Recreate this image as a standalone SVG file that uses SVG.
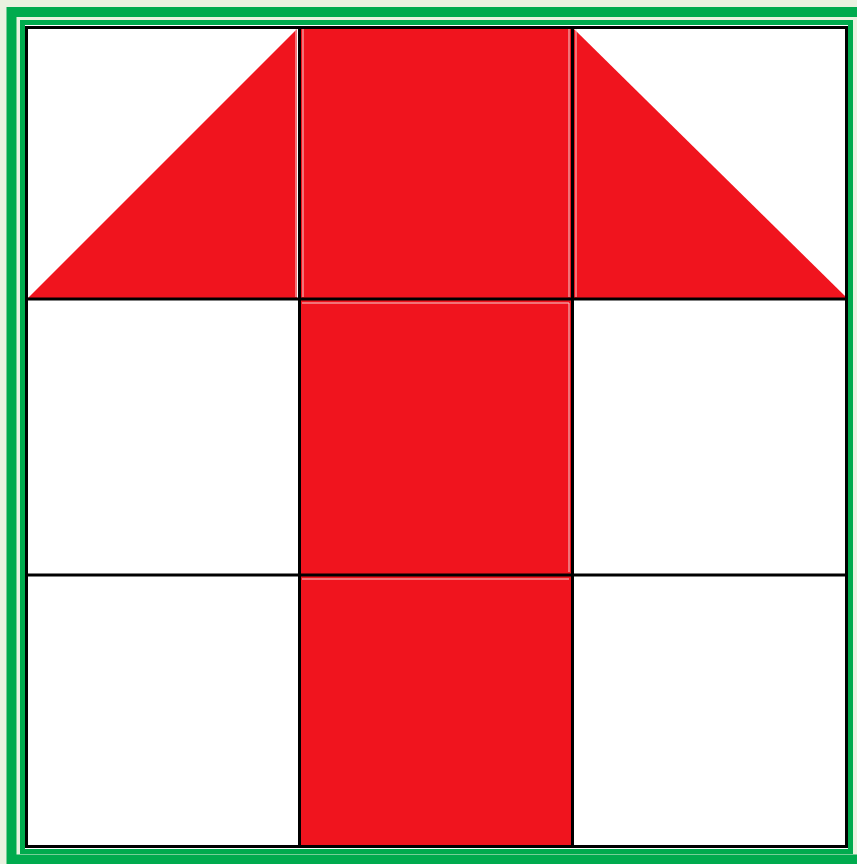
<svg xmlns="http://www.w3.org/2000/svg" width="857" height="864" viewBox="0 0 857 864">
<style>
.red{fill:#f0141e}
.grid{stroke:#000;stroke-width:3;fill:none}
.edge{stroke:#f4d0d0;stroke-width:1;fill:none}
</style>
<rect x="0" y="0" width="857" height="864" fill="#eaf2e0"/>
<rect x="11.5" y="12" width="852" height="847.5" fill="none" stroke="#00ab4e" stroke-width="10"/>
<rect x="22.5" y="22.5" width="828" height="829" fill="#fff" stroke="#00ab4e" stroke-width="5"/>
<g id="shapes">
<polygon id="tri-left" class="red" points="28,298 297,298 297,29"/>
<polygon id="tri-right" class="red" points="574,29 574,298 847,298"/>
<rect id="sq-top" class="red" x="300" y="28" width="272" height="270"/>
<rect id="sq-mid" class="red" x="300" y="299" width="272" height="276"/>
<rect id="sq-bot" class="red" x="300" y="575" width="272" height="271"/>
<line class="edge" x1="296" y1="29" x2="296" y2="297"/>
<line class="edge" x1="303" y1="29" x2="303" y2="297"/>
<line class="edge" x1="569" y1="29" x2="569" y2="297"/>
<line class="edge" x1="576" y1="29" x2="576" y2="297"/>
<line class="edge" x1="302" y1="303" x2="569" y2="303"/>
<line class="edge" x1="569" y1="303" x2="569" y2="572"/>
<line class="edge" x1="302" y1="579" x2="569" y2="579"/>
</g>
<g id="connectors">
<line class="grid" x1="299.5" y1="27" x2="299.5" y2="847"/>
<line class="grid" x1="572.5" y1="27" x2="572.5" y2="847"/>
<line class="grid" x1="27" y1="299" x2="847" y2="299"/>
<line class="grid" x1="27" y1="575" x2="847" y2="575"/>
<rect class="grid" x="26.5" y="27.5" width="820" height="819" stroke-width="3.5"/>
</g>
</svg>
